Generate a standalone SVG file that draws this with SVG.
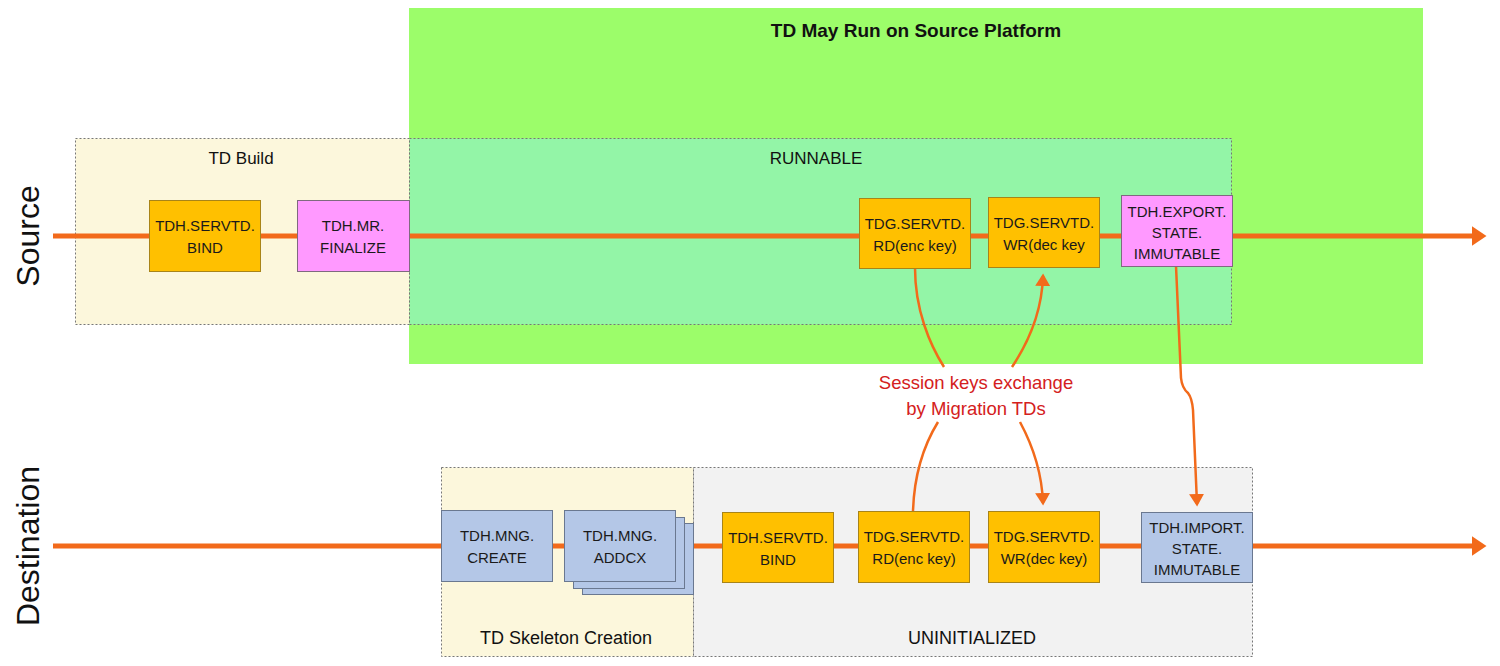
<svg xmlns="http://www.w3.org/2000/svg" width="1500" height="666" viewBox="0 0 1500 666">
<style>
.t{font-family:"Liberation Sans",Arial,sans-serif;font-size:15px;fill:#1a1a1a;text-anchor:middle}
.gold{fill:#ffc000;stroke:#a88418;stroke-width:1}
.pink{fill:#ff99ff;stroke:#7f6a7f;stroke-width:1}
.blue{fill:#b4c7e7;stroke:#6a7890;stroke-width:1}
.zone{stroke:#777;stroke-width:1;stroke-dasharray:2,2}
.lbl{font-family:"Liberation Sans",Arial,sans-serif;fill:#111;text-anchor:middle}
.main{stroke:#f26a1b;stroke-width:5;fill:none}
.cur{stroke:#f26a1b;stroke-width:2.5;fill:none}
.red{font-family:"Liberation Sans",Arial,sans-serif;font-size:18.5px;fill:#d42020;text-anchor:middle}
</style>
<defs>
<marker id="big" markerWidth="4" markerHeight="4" refX="0.5" refY="2" orient="auto" markerUnits="strokeWidth"><path d="M0,0 L3,2 L0,4 Z" fill="#f26a1b"/></marker>
<marker id="sm" markerWidth="6" markerHeight="6" refX="4" refY="3" orient="auto" markerUnits="strokeWidth"><path d="M0,0 L5,3 L0,6 Z" fill="#f26a1b"/></marker>
</defs>
<rect width="1500" height="666" fill="#fff"/>
<g id="zones">
<rect x="409" y="8" width="1014" height="356" fill="#9cfd6a"/>
<text class="lbl" x="916" y="37" font-size="19" font-weight="bold">TD May Run on Source Platform</text>
<rect class="zone" x="75.5" y="138.5" width="334" height="186" fill="#fcf7dc"/>
<rect class="zone" x="409.5" y="138.5" width="822" height="186" fill="#93f5a7"/>
<text class="lbl" x="241" y="164" font-size="17">TD Build</text>
<text class="lbl" x="816" y="164" font-size="17">RUNNABLE</text>
<rect class="zone" x="441.5" y="467.5" width="252" height="189" fill="#fcf7dc"/>
<rect class="zone" x="693.5" y="467.5" width="559" height="189" fill="#f2f2f2"/>
<text class="lbl" x="566" y="644" font-size="18">TD Skeleton Creation</text>
<text class="lbl" x="972" y="644" font-size="18">UNINITIALIZED</text>
<text class="lbl" font-size="32" transform="translate(39,236) rotate(-90)">Source</text>
<text class="lbl" font-size="32" transform="translate(39,546) rotate(-90)">Destination</text>
</g>
<g id="connectors">
<line class="main" x1="53" y1="236" x2="1474" y2="236" marker-end="url(#big)"/>
<line class="main" x1="53" y1="546" x2="1474" y2="546" marker-end="url(#big)"/>
<path class="cur" d="M915,268 C915,310 930,345 944,367"/>
<path class="cur" d="M1012,367 C1030,340 1042,310 1043,276" marker-end="url(#sm)"/>
<path class="cur" d="M938,422 C922,448 914,480 913,511"/>
<path class="cur" d="M1020,422 C1034,448 1042,475 1043,503" marker-end="url(#sm)"/>
<path class="cur" d="M1176,266 L1181,378 Q1182,388 1188,393 Q1192,398 1193,410 L1197,504" marker-end="url(#sm)"/>
<text class="red" x="976" y="389">Session keys exchange</text>
<text class="red" x="976" y="415">by Migration TDs</text>
</g>
<g id="src-bind"><rect class="gold" x="149.5" y="200.5" width="111" height="71"/><text class="t" x="205" y="231">TDH.SERVTD.</text><text class="t" x="205" y="253">BIND</text></g>
<g id="src-finalize"><rect class="pink" x="297.5" y="200.5" width="112" height="71"/><text class="t" x="353" y="231">TDH.MR.</text><text class="t" x="353" y="253">FINALIZE</text></g>
<g id="src-rd"><rect class="gold" x="859.5" y="198.5" width="111" height="70"/><text class="t" x="915" y="229">TDG.SERVTD.</text><text class="t" x="915" y="251">RD(enc key)</text></g>
<g id="src-wr"><rect class="gold" x="988.5" y="197.5" width="111" height="70"/><text class="t" x="1044" y="228">TDG.SERVTD.</text><text class="t" x="1044" y="250">WR(dec key</text></g>
<g id="src-export"><rect class="pink" x="1121.5" y="195.5" width="111" height="71"/><text class="t" x="1177" y="217">TDH.EXPORT.</text><text class="t" x="1177" y="238">STATE.</text><text class="t" x="1177" y="259">IMMUTABLE</text></g>
<g id="dst-create"><rect class="blue" x="441.5" y="510.5" width="111" height="71"/><text class="t" x="497" y="541">TDH.MNG.</text><text class="t" x="497" y="563">CREATE</text></g>
<g id="dst-addcx"><rect class="blue" x="582.5" y="523.5" width="111" height="71"/><rect class="blue" x="573.5" y="517.5" width="111" height="71"/><rect class="blue" x="564.5" y="510.5" width="111" height="71"/><text class="t" x="620" y="541">TDH.MNG.</text><text class="t" x="620" y="563">ADDCX</text></g>
<g id="dst-bind"><rect class="gold" x="722.5" y="512.5" width="111" height="70"/><text class="t" x="778" y="543">TDH.SERVTD.</text><text class="t" x="778" y="565">BIND</text></g>
<g id="dst-rd"><rect class="gold" x="858.5" y="511.5" width="111" height="71"/><text class="t" x="914" y="542">TDG.SERVTD.</text><text class="t" x="914" y="564">RD(enc key)</text></g>
<g id="dst-wr"><rect class="gold" x="988.5" y="511.5" width="111" height="71"/><text class="t" x="1044" y="542">TDG.SERVTD.</text><text class="t" x="1044" y="564">WR(dec key)</text></g>
<g id="dst-import"><rect class="blue" x="1141.5" y="512.5" width="111" height="70"/><text class="t" x="1197" y="533">TDH.IMPORT.</text><text class="t" x="1197" y="554">STATE.</text><text class="t" x="1197" y="575">IMMUTABLE</text></g>
</svg>
